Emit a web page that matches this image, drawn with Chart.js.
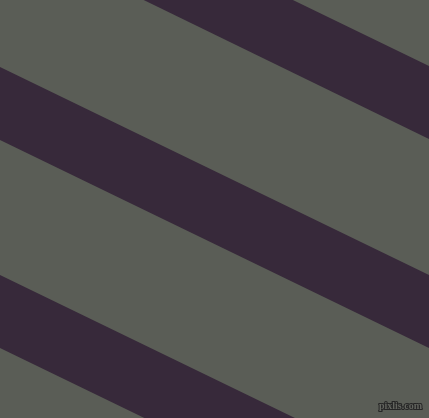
<!DOCTYPE html>
<html>
<head>
<meta charset="utf-8">
<script src="https://cdn.jsdelivr.net/npm/chart.js@4"></script>
<style>
  html, body { margin: 0; padding: 0; background: #5a5d56; }
  #stripes { display: block; }
</style>
</head>
<body>
<canvas id="stripes" width="429" height="418"></canvas>
<script>
// stripe colours
const palette = {
    ground: '#5a5d56',
    stripe: '#37293a',
    markFill: '#63655f',
    markEdge: '#262626'
};

// x of the left and right edge of the picture
const xEnds = [0, 429];
// y of each stripe's upper and lower edge, at the left and right end
const stripeUpper = [[-142, 66], [67, 275], [275, 483]];
const stripeLower = [[-70, 139], [140, 348], [348, 556]];

const watermark = 'pixlis.com';

function edge(ys) {
    return xEnds.map((x, i) => ({ x: x, y: ys[i] }));
}

const datasets = [];
stripeUpper.forEach((up, i) => {
    datasets.push({
        data: edge(up),
        borderColor: 'rgba(0,0,0,0)',
        borderWidth: 0,
        pointRadius: 0,
        fill: false
    });
    datasets.push({
        data: edge(stripeLower[i]),
        borderColor: 'rgba(0,0,0,0)',
        borderWidth: 0,
        pointRadius: 0,
        backgroundColor: palette.stripe,
        fill: '-1'
    });
});

// small site mark in the corner, outlined letters
const markPlugin = {
    id: 'mark',
    afterDraw(chart) {
        const ctx = chart.ctx;
        ctx.save();
        ctx.font = 'bold 10px "Liberation Sans Narrow"';
        ctx.textAlign = 'right';
        ctx.textBaseline = 'alphabetic';
        ctx.lineWidth = 2;
        ctx.lineJoin = 'round';
        ctx.strokeStyle = palette.markEdge;
        ctx.strokeText(watermark, 422, 409);
        ctx.fillStyle = palette.markFill;
        ctx.fillText(watermark, 422, 409);
        ctx.restore();
    }
};

new Chart(document.getElementById('stripes'), {
    type: 'line',
    data: { datasets: datasets },
    plugins: [markPlugin],
    options: {
        responsive: false,
        animation: false,
        layout: { padding: 0 },
        plugins: { legend: { display: false }, tooltip: { enabled: false } },
        elements: { line: { tension: 0 } },
        scales: {
            x: { type: 'linear', min: 0, max: 429, display: false },
            y: { type: 'linear', min: 0, max: 418, reverse: true, display: false }
        }
    }
});
</script>
</body>
</html>
